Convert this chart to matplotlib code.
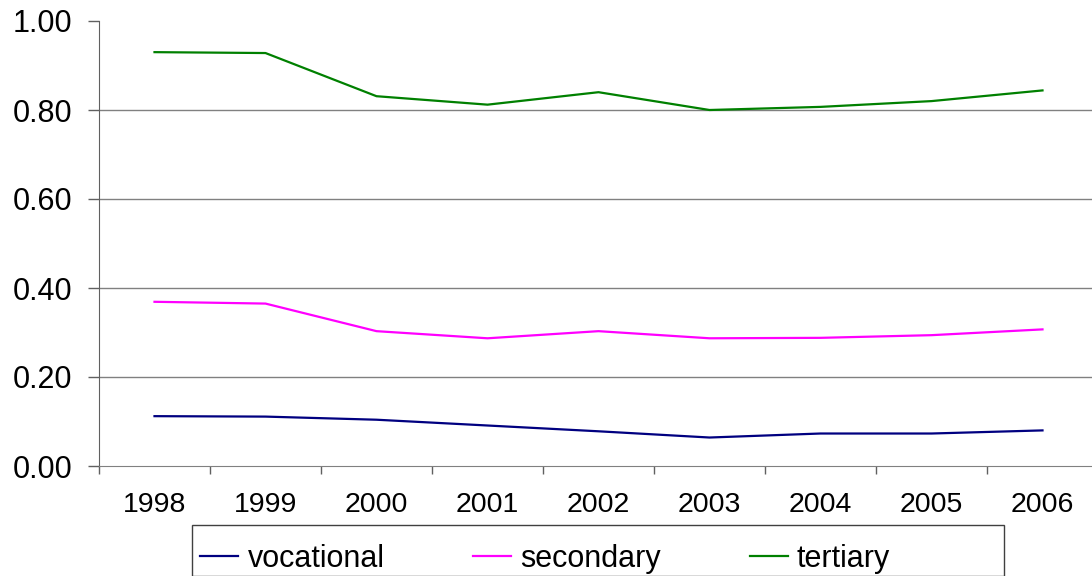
import numpy as np
import matplotlib.pyplot as plt
from matplotlib.patches import Rectangle

plt.rcParams['font.family'] = ['Liberation Sans', 'DejaVu Sans']

# data
years = ["1998", "1999", "2000", "2001", "2002", "2003", "2004", "2005", "2006"]
vocational = [0.112, 0.111, 0.104, 0.091, 0.078, 0.064, 0.073, 0.073, 0.080]
secondary = [0.369, 0.365, 0.303, 0.287, 0.303, 0.287, 0.288, 0.294, 0.307]
tertiary = [0.930, 0.928, 0.831, 0.812, 0.840, 0.800, 0.807, 0.820, 0.844]

W, H = 1092, 576
fig = plt.figure(figsize=(W / 100, H / 100), dpi=100)
# plot area in pixels: left 99, top 21, bottom 466, category width 111
ax = fig.add_axes([99 / W, (H - 466) / H, 999 / W, 445 / H])

x = np.arange(len(years))
ax.plot(x, vocational, color="#000080", linewidth=1.6, label="vocational")
ax.plot(x, secondary, color="#FF00FF", linewidth=1.6, label="secondary")
ax.plot(x, tertiary, color="#008000", linewidth=1.6, label="tertiary")

ax.set_xlim(-0.5, len(years) - 0.5)
ax.set_ylim(0, 1.0)

# y axis
ax.set_yticks(np.arange(0, 1.01, 0.2))
ax.set_yticklabels(["%.2f" % v for v in np.arange(0, 1.01, 0.2)])
ax.tick_params(axis="y", direction="out", length=8, width=1, color="#606060",
               labelsize=22, pad=11)
for yv in [0.2, 0.4, 0.6, 0.8]:
    ax.axhline(yv, color="#808080", linewidth=1, zorder=0)

# x axis: tick marks between categories, labels at centers
ax.set_xticks(np.arange(-0.5, len(years), 1.0))
ax.set_xticklabels([])
ax.set_xticks(x, minor=True)
ax.set_xticklabels(years, minor=True)
ax.tick_params(axis="x", which="major", direction="out", length=6, width=1,
               color="#606060")
ax.tick_params(axis="x", which="minor", length=0, labelsize=20.5, pad=19)

for s in ["top", "right"]:
    ax.spines[s].set_visible(False)
ax.spines["left"].set_color("#606060")
ax.spines["bottom"].set_color("#808080")

# legend box at bottom (cut by figure edge)
fig.patches.append(Rectangle((192 / W, 0), (1004 - 192) / W, (H - 537) / H + 0.02,
                             transform=fig.transFigure, fill=False,
                             edgecolor="#404040", linewidth=1))
leg = fig.legend(loc="center left", bbox_to_anchor=(197 / W, (H - 559) / H),
                 ncol=3, frameon=False, fontsize=22, handlelength=1.25,
                 handletextpad=0.3, columnspacing=2.9, borderpad=0.1,
                 borderaxespad=0)

fig.savefig("out.png", dpi=100)
